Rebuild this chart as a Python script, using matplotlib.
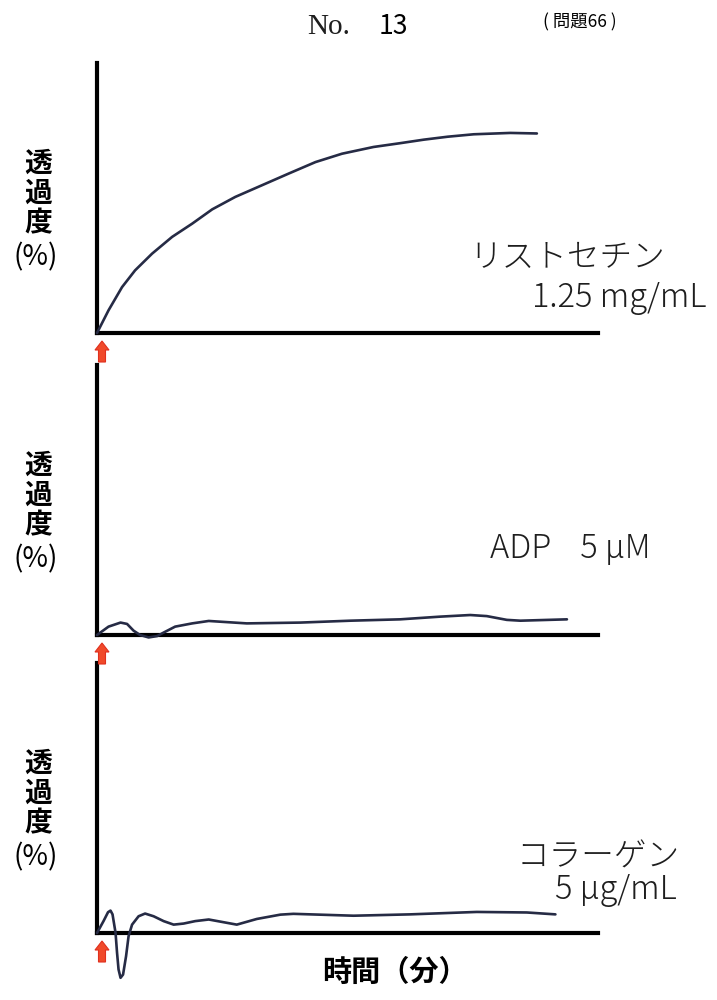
import numpy as np
import matplotlib
matplotlib.use("Agg")
import matplotlib.pyplot as plt
from matplotlib.patches import FancyArrow

plt.rcParams['font.family'] = ['Noto Sans CJK JP', 'DejaVu Sans']

# time (min) and transmittance (%)
risto_t = [0, 0.23, 0.50, 0.76, 1.10, 1.50, 1.90, 2.30, 2.76, 3.29, 3.82, 4.36, 4.89,
           5.52, 6.05, 6.52, 7.00, 7.52, 8.25, 8.78]
risto_y = [0, 8.4, 17.0, 23.2, 29.4, 35.6, 40.5, 45.8, 50.4, 54.7, 59.0, 63.3, 66.4,
           68.9, 70.3, 71.6, 72.7, 73.6, 74.1, 73.9]

adp_t = [0, 0.23, 0.47, 0.60, 0.73, 0.86, 1.03, 1.20, 1.33, 1.56, 1.90, 2.23, 2.99,
         4.06, 5.06, 6.05, 6.85, 7.45, 7.78, 8.18, 8.45, 9.38]
adp_y = [0, 3.1, 4.6, 4.1, 1.6, 0.0, -0.9, -0.4, 0.9, 3.1, 4.3, 5.2, 4.3,
         4.6, 5.3, 5.8, 6.8, 7.4, 7.0, 5.6, 5.3, 5.8]

col_t = [0, 0.13, 0.22, 0.27, 0.31, 0.37, 0.40, 0.43, 0.47, 0.52, 0.58, 0.63, 0.70,
         0.83, 0.96, 1.13, 1.33, 1.53, 1.73, 1.96, 2.23, 2.79, 3.19, 3.66, 3.92,
         5.12, 6.25, 7.58, 8.58, 9.15]
col_y = [0, 4.4, 7.7, 8.3, 6.9, 0.1, -7.3, -13.5, -16.6, -15.4, -8.6, -1.2, 3.1,
         6.2, 7.2, 6.2, 4.4, 3.1, 3.5, 4.4, 5.0, 3.1, 5.2, 6.8, 7.1,
         6.4, 6.9, 7.8, 7.6, 6.9]

panels = [
    (risto_t, risto_y),
    (adp_t, adp_y),
    (col_t, col_y),
]

fig = plt.figure(figsize=(7.17, 10), dpi=100)
W, H = 717, 1000

# axis rectangles in pixels: (x0, y_top, y_bottom)
rects = [(97, 63, 333), (97, 365, 635), (97, 663, 933)]
line_color = '#262b45'
txt_color = '#1e1e1e'

for (t, y), (x0, ytop, ybot) in zip(panels, rects):
    ax = fig.add_axes([x0 / W, 1 - ybot / H, 501 / W, (ybot - ytop) / H])
    ax.plot(t, y, color=line_color, lw=1.9, clip_on=False, zorder=5,
            solid_capstyle='round', solid_joinstyle='round')
    ax.set_xlim(0, 10)
    ax.set_ylim(0, 100)
    for s in ['top', 'right']:
        ax.spines[s].set_visible(False)
    for s in ['left', 'bottom']:
        ax.spines[s].set_linewidth(3)
        ax.spines[s].set_color('black')
    ax.set_xticks([])
    ax.set_yticks([])
    ax.patch.set_alpha(0)

    # y label, stacked characters
    for i, ch in enumerate(['透', '過', '度']):
        fig.text(38 / W, 1 - (ytop + 101 + i * 29.5) / H, ch, ha='center', va='center',
                 fontsize=20, fontweight='bold')
    fig.text(36 / W, 1 - (ytop + 194) / H, '(%)', ha='center', va='center',
             fontsize=20)

    # red arrow marking addition
    fig.patches.append(FancyArrow(102 / W, 1 - (ybot + 29) / H, 0, 21 / H,
                                  width=7 / W, head_width=14 / W, head_length=9 / H,
                                  length_includes_head=True, transform=fig.transFigure,
                                  facecolor='#f04a2a', edgecolor='#e0301e', lw=0.8))

# agent labels
lab = dict(ha='right', va='center', fontsize=23.5, fontweight='light', color=txt_color)
fig.text(665 / W, 1 - 258 / H, 'リストセチン', **lab)
fig.text(706 / W, 1 - 298 / H, '1.25 mg/mL', **lab)
fig.text(650 / W, 1 - 549 / H, 'ADP    5 μM', **lab)
fig.text(680 / W, 1 - 857 / H, 'コラーゲン', **lab)
fig.text(677 / W, 1 - 890 / H, '5 μg/mL', **lab)

# header
fig.text(307 / W, 1 - 27 / H, 'No.', ha='left', va='center', fontsize=21,
         family='Liberation Serif', color=txt_color)
fig.text(379 / W, 1 - 27 / H, '13', ha='left', va='center', fontsize=19)
fig.text(543 / W, 1 - 22 / H, '( 問題66 )', ha='left', va='center', fontsize=12.5)

# x label
fig.text(395 / W, 1 - 972 / H, '時間（分）', ha='center', va='center', fontsize=21,
         fontweight='bold')

fig.savefig('out.png', dpi=100)
